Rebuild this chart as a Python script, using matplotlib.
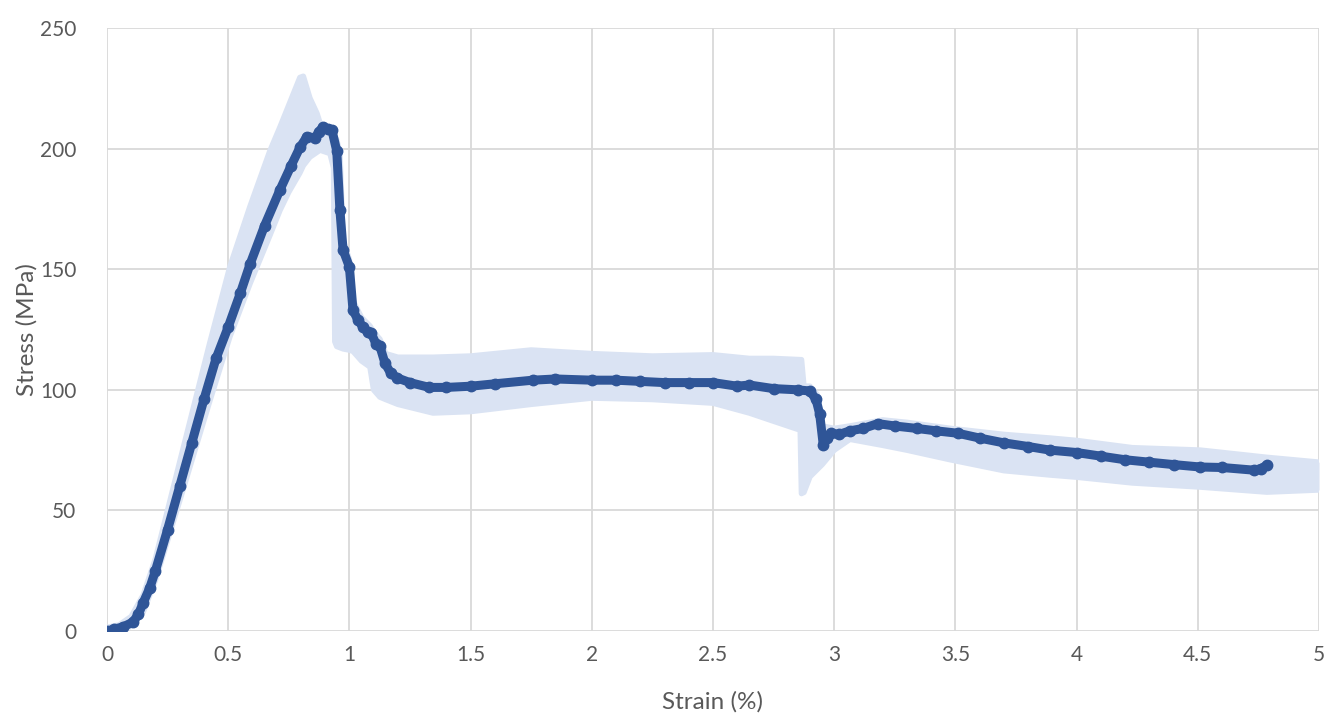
import matplotlib
matplotlib.use('Agg')
import matplotlib.pyplot as plt

plt.rcParams['font.family'] = ['Lato', 'DejaVu Sans']

# mean stress-strain curve
strain = [0, 0.03, 0.066, 0.107, 0.13, 0.149, 0.177, 0.2, 0.25, 0.3, 0.35, 0.4,
          0.45, 0.5, 0.55, 0.59, 0.65, 0.714, 0.76, 0.796, 0.825, 0.858, 0.875,
          0.89, 0.91, 0.928, 0.948, 0.961, 0.974, 1.0, 1.015, 1.035, 1.056,
          1.075, 1.09, 1.11, 1.126, 1.147, 1.17, 1.196, 1.25, 1.33, 1.4, 1.5,
          1.6, 1.757, 1.85, 2.0, 2.1, 2.2, 2.3, 2.4, 2.5, 2.6, 2.65, 2.75,
          2.85, 2.9, 2.925, 2.94, 2.955, 2.97, 2.985, 3.02, 3.065, 3.12, 3.18,
          3.25, 3.34, 3.42, 3.51, 3.6, 3.7, 3.8, 3.89, 4.0, 4.1, 4.2, 4.3, 4.4,
          4.51, 4.6, 4.73, 4.76, 4.785]
stress = [0, 0.8, 1.7, 3.7, 7, 11.6, 18, 25, 42, 60, 78, 96,
          113, 126, 140, 152, 168, 183, 193, 200.5, 205, 204.5, 207,
          209, 208, 207.7, 199, 174.5, 158, 151, 133, 129, 126,
          124, 123.5, 119, 118, 111, 107, 105, 103, 101, 101, 101.5,
          102.5, 104, 104.5, 104, 104, 103.5, 103, 103, 103, 101.5, 102, 100.5,
          100, 99.5, 96, 90, 77, 80, 82, 81.5, 83, 84, 86,
          85, 84, 83, 82, 80, 78, 76.5, 75, 74, 72.5, 71, 70, 69,
          68, 67.8, 66.7, 67.3, 68.8]

# scatter band (min / max of the specimens)
band_strain = [0, 0.05, 0.1, 0.15, 0.2, 0.3, 0.423, 0.507, 0.59, 0.672, 0.714,
               0.75, 0.796, 0.81, 0.837, 0.866, 0.879, 0.92, 0.935, 0.94, 0.948,
               0.961, 0.974, 1.0, 1.015, 1.05, 1.085, 1.1, 1.126, 1.15, 1.2,
               1.345, 1.5, 1.75, 2.0, 2.25, 2.5, 2.65, 2.75, 2.86, 2.865, 2.875,
               2.9, 2.93, 2.95, 3.0, 3.065, 3.2, 3.3, 3.48, 3.7, 3.89, 4.0, 4.23,
               4.51, 4.785, 5.0]
band_upper = [1.5, 2.5, 6, 15, 30, 70, 119, 151, 176, 199, 209,
              218, 229.5, 230, 221, 214.7, 210.6, 206, 205.5, 205, 203.6,
              198, 162, 154, 137, 130, 126.5, 124, 121, 115, 113.5,
              113.5, 114, 116.5, 115, 114, 114.5, 113, 113, 112.5, 112.5, 101.5,
              101.5, 98, 85, 84, 85, 87.5, 86.5, 84, 81.5, 80, 79, 76,
              75, 72, 70]
band_lower = [-1.5, 0, 2, 8, 21, 54, 95, 122, 144, 164, 174.5,
              182, 190, 193, 196.5, 198.5, 199.4, 198, 192, 120, 118,
              117.5, 117, 116.5, 116, 112, 109.5, 100, 97, 96, 94,
              90.4, 91, 94, 96.6, 96, 94.5, 90.4, 87, 83.3, 57, 57.5,
              64, 67, 69, 75, 79.5, 77, 75, 71, 66.5, 64.7, 63.8, 61.4,
              59.7, 57.6, 58.5]

x_ticks = [0, 0.5, 1, 1.5, 2, 2.5, 3, 3.5, 4, 4.5, 5]
x_labels = ['0', '0.5', '1', '1.5', '2', '2.5', '3', '3.5', '4', '4.5', '5']
y_ticks = [0, 50, 100, 150, 200, 250]

BAND = '#dae3f3'
LINE = '#2f5597'
TEXT = '#595959'
GRID = '#d9d9d9'

fig = plt.figure(figsize=(13.27, 7.21), dpi=100)
ax = fig.add_axes([0.0806, 0.1248, 0.9134, 0.8363])

ax.fill_between(band_strain, band_lower, band_upper, color=BAND, lw=0, zorder=2)
ax.plot(band_strain, band_upper, color=BAND, lw=4, solid_capstyle='round',
        solid_joinstyle='round', zorder=2)
ax.plot(band_strain, band_lower, color=BAND, lw=4, solid_capstyle='round',
        solid_joinstyle='round', zorder=2)

ax.plot(strain, stress, color=LINE, lw=6.5, marker='o', ms=7.5, mec=LINE,
        mfc=LINE, solid_capstyle='round', solid_joinstyle='round', zorder=3)

ax.set_xlim(0, 5)
ax.set_ylim(0, 250)
ax.set_xticks(x_ticks)
ax.set_xticklabels(x_labels)
ax.set_yticks(y_ticks)
ax.grid(True, color=GRID, lw=1.3, zorder=0)
ax.set_axisbelow(True)
for s in ax.spines.values():
    s.set_visible(False)
ax.tick_params(length=0, labelsize=15, labelcolor=TEXT)
ax.tick_params(axis='y', pad=22)
ax.tick_params(axis='x', pad=10)

ax.set_xlabel('Strain (%)', fontsize=17.5, color=TEXT)
ax.set_ylabel('Stress (MPa)', fontsize=17.5, color=TEXT)
ax.xaxis.set_label_coords(0.5, (631 - 691) / 603)
ax.yaxis.set_label_coords((38 - 107) / 1212, 0.5)

fig.savefig('out.png', dpi=100, facecolor='white')
